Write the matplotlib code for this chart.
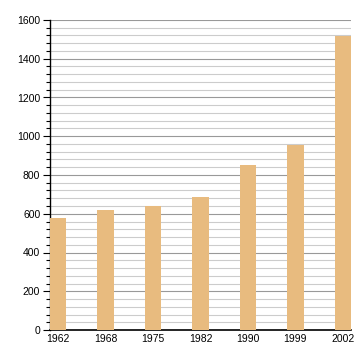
import matplotlib
matplotlib.use("Agg")
import matplotlib.pyplot as plt
from matplotlib.ticker import MultipleLocator

years = ["1962", "1968", "1975", "1982", "1990", "1999", "2002"]
population = [578, 619, 640, 688, 853, 956, 1517]

plt.rcParams['font.family'] = ['Liberation Sans', 'DejaVu Sans']

fig = plt.figure(figsize=(3.6, 3.6), dpi=100)
ax = fig.add_axes([50/360, 30/360, 301/360, 310/360])

x = list(range(len(years)))
ax.bar(x, population, width=0.34, color='#e8bb7f', zorder=3)

ax.set_xlim(-0.17, len(years) - 1 + 0.17)
ax.set_ylim(0, 1600)
ax.yaxis.set_major_locator(MultipleLocator(200))
ax.yaxis.set_minor_locator(MultipleLocator(40))
ax.grid(which='major', axis='y', color='#999999', linewidth=0.8, zorder=0)
ax.grid(which='minor', axis='y', color='#cccccc', linewidth=0.8, zorder=0)
ax.set_xticks(x)
ax.set_xticklabels(years)
ax.tick_params(axis='x', length=0, labelsize=7.5, pad=3)
ax.tick_params(axis='y', which='major', length=5, width=0.8, labelsize=7.5, pad=2)
ax.tick_params(axis='y', which='minor', length=3, width=0.8)
for s in ['top', 'right']:
    ax.spines[s].set_visible(False)
ax.spines['left'].set_linewidth(1)
ax.spines['bottom'].set_linewidth(1.2)

fig.savefig("out.png", dpi=100)
